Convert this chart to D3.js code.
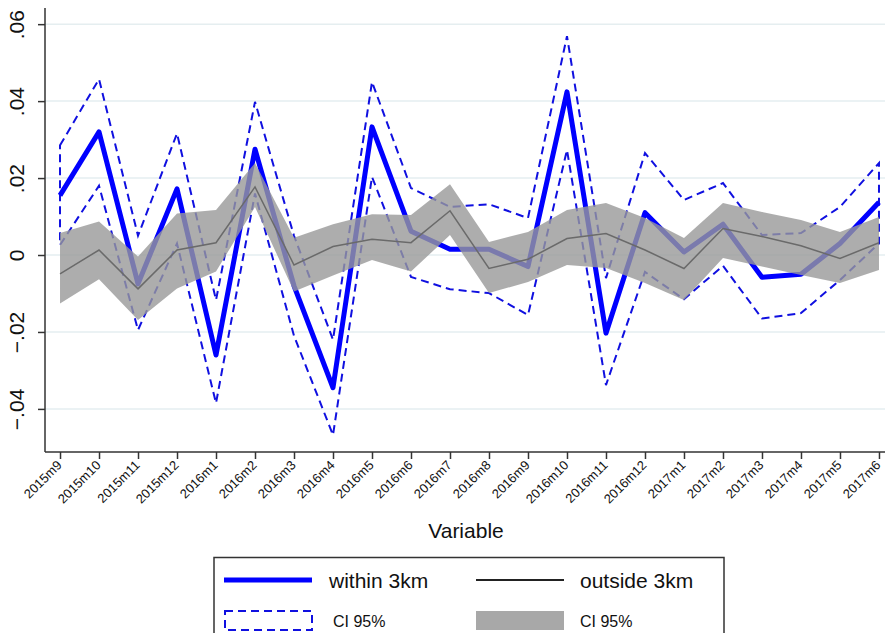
<!DOCTYPE html>
<html>
<head>
<meta charset="utf-8">
<script src="https://cdn.jsdelivr.net/npm/d3@7"></script>
<style>
  body { margin: 0; background: #fff; }
  text { font-family: "Liberation Sans", Arial, sans-serif; fill: #111; }
</style>
</head>
<body>
<div class="container"></div>
<script>
// Months on the x axis
const months = ["2015m9","2015m10","2015m11","2015m12","2016m1","2016m2","2016m3","2016m4",
  "2016m5","2016m6","2016m7","2016m8","2016m9","2016m10","2016m11","2016m12",
  "2017m1","2017m2","2017m3","2017m4","2017m5","2017m6"]

// within 3km: estimate and 95% CI
const within = [0.0155, 0.032, -0.0075, 0.0172, -0.026, 0.0275, -0.008, -0.0345,
  0.0333, 0.0062, 0.0015, 0.0015, -0.003, 0.0424, -0.0203, 0.011,
  0.0008, 0.008, -0.0058, -0.005, 0.003, 0.0137]
const withinHi = [0.0285, 0.0457, 0.005, 0.0316, -0.0117, 0.0398, 0.005, -0.022,
  0.045, 0.0174, 0.0125, 0.0132, 0.0096, 0.0569, -0.006, 0.0265,
  0.0143, 0.0187, 0.0052, 0.0057, 0.0125, 0.0239]
const withinLo = [0.0026, 0.018, -0.0195, 0.003, -0.0385, 0.016, -0.021, -0.0468,
  0.0203, -0.0057, -0.0089, -0.0099, -0.0156, 0.0273, -0.0338, -0.0044,
  -0.0115, -0.0028, -0.0165, -0.0151, -0.0065, 0.003]

// outside 3km: estimate and 95% CI
const outside = [-0.0049, 0.0013, -0.0088, 0.0013, 0.0032, 0.0177, -0.0026, 0.0022,
  0.0041, 0.0032, 0.0115, -0.0035, -0.0011, 0.0043, 0.0056, 0.0013,
  -0.0035, 0.0069, 0.0048, 0.0024, -0.0009, 0.0032]
const outsideHi = [0.0057, 0.0087, -0.0004, 0.0108, 0.0117, 0.0239, 0.0045, 0.008,
  0.0106, 0.0104, 0.0184, 0.0034, 0.006, 0.0117, 0.0135, 0.0096,
  0.0044, 0.0135, 0.0112, 0.0091, 0.006, 0.0099]
const outsideLo = [-0.0126, -0.0063, -0.0169, -0.0087, -0.0043, 0.0125, -0.0095, -0.0053,
  -0.0013, -0.0043, 0.0052, -0.0099, -0.007, -0.0026, -0.0034, -0.0073,
  -0.0117, -0.0008, -0.003, -0.0052, -0.0073, -0.0039]

const yTicks = [0.06, 0.04, 0.02, 0, -0.02, -0.04]

const width = 885
const height = 633
const plot = {left: 45, right: 886, top: 8, bottom: 452}

const svg = d3.select(".container")
    .append("svg")
    .attr("width", width)
    .attr("height", height)

const x = d3.scaleLinear()
    .domain([0.615, 22.18])
    .range([plot.left, plot.right])
const y = d3.scaleLinear()
    .domain([-0.0512, 0.0642])
    .range([plot.bottom, plot.top])

const data = months.map((m, i) => ({
    idx: i + 1, m: m,
    w: within[i], wh: withinHi[i], wl: withinLo[i],
    o: outside[i], oh: outsideHi[i], ol: outsideLo[i]
}))

// gridlines
svg.append("g")
    .selectAll("line")
    .data(yTicks)
    .enter()
    .append("line")
        .attr("x1", plot.left)
        .attr("x2", plot.right)
        .attr("y1", d => y(d))
        .attr("y2", d => y(d))
        .style("stroke", "#e5eef0")
        .style("stroke-width", 1.5)

// within 3km CI outline (dashed polygon, no fill)
const ciPoly = data.map(d => [x(d.idx), y(d.wh)])
    .concat(data.slice().reverse().map(d => [x(d.idx), y(d.wl)]))
svg.append("path")
    .attr("d", d3.line()(ciPoly) + "Z")
    .style("fill", "none")
    .style("stroke", "#1010e0")
    .style("stroke-width", 2)
    .style("stroke-dasharray", "8,5")

// within 3km estimate
svg.append("path")
    .datum(data)
    .attr("d", d3.line().x(d => x(d.idx)).y(d => y(d.w)))
    .style("fill", "none")
    .style("stroke", "#0000ff")
    .style("stroke-width", 5)
    .style("stroke-linejoin", "round")

// outside 3km CI band
svg.append("path")
    .datum(data)
    .attr("d", d3.area().x(d => x(d.idx)).y0(d => y(d.ol)).y1(d => y(d.oh)))
    .style("fill", "#989898")
    .style("fill-opacity", 0.8)

// outside 3km estimate
svg.append("path")
    .datum(data)
    .attr("d", d3.line().x(d => x(d.idx)).y(d => y(d.o)))
    .style("fill", "none")
    .style("stroke", "#6a6a6a")
    .style("stroke-width", 1.5)

// y axis
const yAxis = svg.append("g")
    .attr("transform", `translate(${plot.left},0)`)
    .call(d3.axisLeft(y).tickValues(yTicks).tickSize(7)
        .tickFormat(d => d === 0 ? "0" : d3.format(".2f")(d).replace("0.", ".")))
yAxis.select(".domain")
    .attr("d", `M0,${plot.top}V${plot.bottom}`)
    .style("stroke", "#333").style("stroke-width", 1.5)
yAxis.selectAll(".tick line").style("stroke", "#333").style("stroke-width", 1.5)
yAxis.selectAll(".tick text")
    .attr("x", null).attr("dy", null)
    .attr("transform", "translate(-21,0) rotate(-90)")
    .attr("text-anchor", "middle")
    .style("font-size", "21px")
    .style("font-family", "Liberation Sans, Arial, sans-serif")
    .style("fill", "#111")

// x axis
const xAxis = svg.append("g")
    .attr("transform", `translate(0,${plot.bottom})`)
    .call(d3.axisBottom(x).tickValues(data.map(d => d.idx)).tickSize(7)
        .tickFormat(d => months[d - 1]))
xAxis.select(".domain")
    .attr("d", `M${plot.left},0H${plot.right}`)
    .style("stroke", "#333").style("stroke-width", 1.5)
xAxis.selectAll(".tick line").style("stroke", "#333").style("stroke-width", 1.5)
xAxis.selectAll(".tick text")
    .attr("y", null).attr("dy", null)
    .attr("transform", "translate(2,14) rotate(-45)")
    .attr("text-anchor", "end")
    .style("font-size", "13px")
    .style("font-family", "Liberation Sans, Arial, sans-serif")
    .style("fill", "#111")

svg.append("text")
    .attr("x", 466)
    .attr("y", 538)
    .attr("text-anchor", "middle")
    .style("font-size", "21px")
    .text("Variable")

// legend
const legend = svg.append("g").attr("id", "legend")
legend.append("rect")
    .attr("x", 214).attr("y", 557.5)
    .attr("width", 510).attr("height", 90)
    .style("fill", "#fff").style("stroke", "#333").style("stroke-width", 1.5)

legend.append("line")
    .attr("x1", 224).attr("x2", 312).attr("y1", 580).attr("y2", 580)
    .style("stroke", "#0000ff").style("stroke-width", 5)
legend.append("text")
    .attr("x", 329).attr("y", 588)
    .style("font-size", "21px")
    .text("within 3km")

legend.append("line")
    .attr("x1", 476).attr("x2", 564).attr("y1", 580).attr("y2", 580)
    .style("stroke", "#222").style("stroke-width", 2)
legend.append("text")
    .attr("x", 580).attr("y", 588)
    .style("font-size", "21px")
    .text("outside 3km")

legend.append("rect")
    .attr("x", 225).attr("y", 611)
    .attr("width", 87).attr("height", 19)
    .style("fill", "none").style("stroke", "#1010e0")
    .style("stroke-width", 2).style("stroke-dasharray", "8,5")
legend.append("text")
    .attr("x", 333).attr("y", 627)
    .style("font-size", "16px")
    .text("CI 95%")

legend.append("rect")
    .attr("x", 476).attr("y", 611)
    .attr("width", 88).attr("height", 19)
    .style("fill", "#a8a8a8")
legend.append("text")
    .attr("x", 580).attr("y", 627)
    .style("font-size", "16px")
    .text("CI 95%")
</script>
</body>
</html>
